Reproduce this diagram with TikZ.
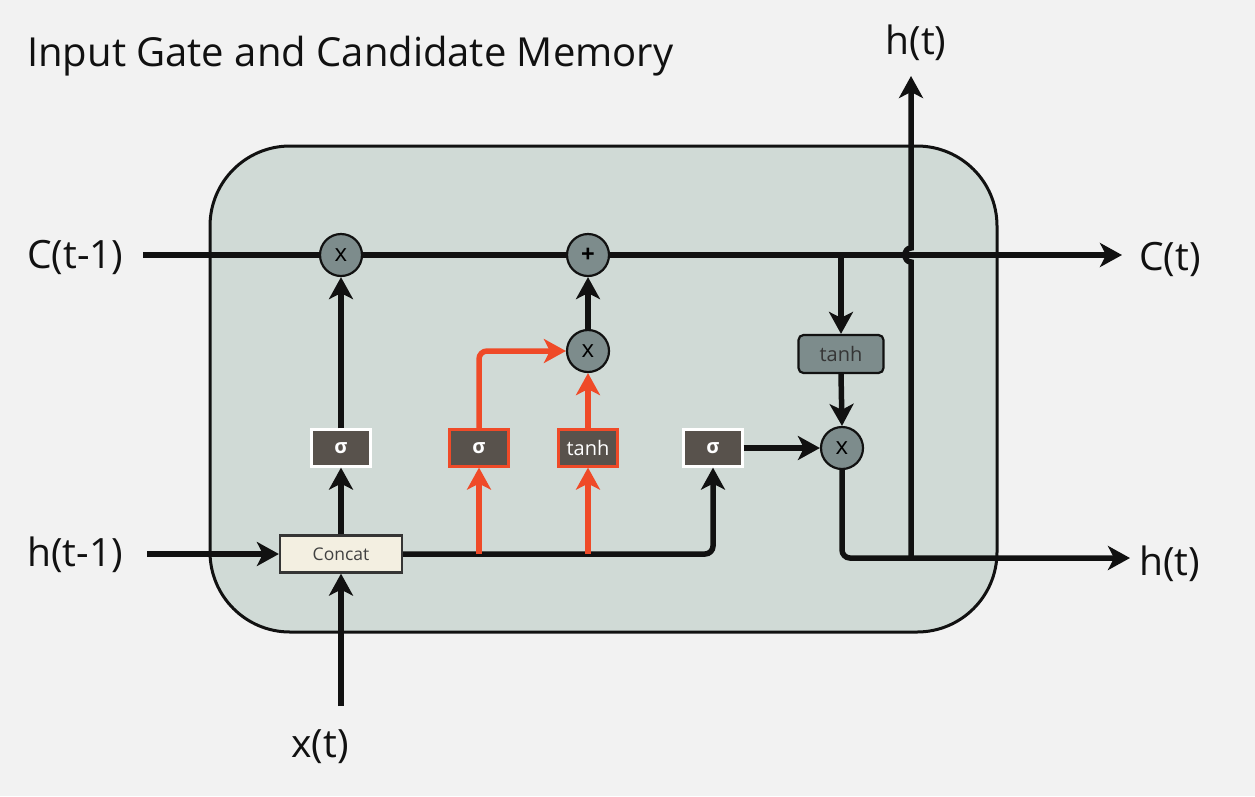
\documentclass[tikz,border=0pt]{standalone}
\usepackage{fontspec}
\setmainfont{Open Sans}
\usetikzlibrary{arrows.meta}
\definecolor{bg}{HTML}{F2F2F2}
\definecolor{cellfill}{HTML}{D0DAD6}
\definecolor{opfill}{HTML}{7D8C8C}
\definecolor{sigfill}{HTML}{58524C}
\definecolor{orng}{HTML}{EF4A28}
\definecolor{cream}{HTML}{F3EFE1}
\definecolor{ink}{HTML}{111111}
\tikzset{
  wire/.style={line width=5.5pt, draw=ink},
  arr/.style={wire, -{Stealth[length=22pt,width=24pt,inset=6pt]}},
  oarr/.style={line width=5.5pt, draw=orng, -{Stealth[length=22pt,width=24pt,inset=6pt]}},
  opnode/.style={circle, draw=ink, line width=2.2pt, fill=opfill, minimum size=42pt, inner sep=0pt, font=\fontsize{24}{26}\selectfont},
  sigbox/.style={draw=white, line width=2.2pt, fill=sigfill, minimum width=59pt, minimum height=37pt, inner sep=0pt, text=white, font=\bfseries\fontsize{20}{22}\selectfont},
  osigbox/.style={sigbox, draw=orng},
  lbl/.style={font=\fontsize{39}{44}\selectfont, text=ink, inner sep=0pt}
}
\begin{document}
\begin{tikzpicture}[x=1pt,y=-1pt]
\useasboundingbox (0,0) rectangle (1255,796);
\fill[bg] (0,0) rectangle (1255,796);
% cell body
\draw[line width=3pt, draw=ink, fill=cellfill, rounded corners=80pt] (210,146) rectangle (997,632);
% title
\node[anchor=west, inner sep=0pt, font=\fontsize{40}{44}\selectfont, text=ink] (title) at (27,56) {Input Gate and Candidate Memory};
% nodes
\node[opnode] (x1) at (341,255) {x};
\node[opnode, font=\bfseries\fontsize{24}{26}\selectfont] (plus) at (588,255) {+};
\node[opnode] (x2) at (588,351) {x};
\node[opnode] (x3) at (842,448) {x};
\node[sigbox] (s1) at (341,448) {σ};
\node[osigbox] (s2) at (479,448) {σ};
\node[osigbox, font=\fontsize{20}{22}\selectfont] (tg) at (588,448) {tanh};
\node[sigbox] (s3) at (713,448) {σ};
\node[draw=ink, line width=2.2pt, fill=opfill, rounded corners=5pt, minimum width=85pt, minimum height=38pt, inner sep=0pt, text=ink!85, font=\fontsize{20}{22}\selectfont] (tc) at (841,354) {tanh};
\node[draw=ink!85, line width=2.2pt, fill=cream, minimum width=122pt, minimum height=37pt, inner sep=0pt, text=ink!80, font=\fontsize{17.5}{20}\selectfont] (cc) at (341,554) {Concat};
% labels
\node[lbl, anchor=west] (cin) at (27,257) {C(t-1)};
\node[lbl, anchor=west] (hin) at (27,555) {h(t-1)};
\node[lbl, anchor=west] (cout) at (1139,259) {C(t)};
\node[lbl, anchor=west] (hout) at (1139,564) {h(t)};
\node[lbl] (htop) at (916,43) {h(t)};
\node[lbl] (xin) at (320,747) {x(t)};
% coordinates
\coordinate (cstart) at (143,255);
\coordinate (cend) at (1122,255);
\coordinate (hstart) at (147,554);
\coordinate (hend) at (1130,558);
\coordinate (xstart) at (341,706);
\coordinate (hj) at (911,558);
\coordinate (hup) at (911,76);
% cell line
\draw[wire] (cstart) -- (x1.west);
\draw[wire] (x1.east) -- (plus.west);
\draw[arr] (plus.east) -- (cend);
% inputs
\draw[arr] (hstart) -- (cc.west);
\draw[arr] (xstart) -- (cc.south);
\draw[arr] (cc.north) -- (s1.south);
\draw[arr] (s1.north) -- (x1.south);
\draw[arr, rounded corners=8pt] (cc.east) -| (s3.south);
\draw[oarr] (s2.south |- cc.east) -- (s2.south);
\draw[oarr] (tg.south |- cc.east) -- (tg.south);
\draw[oarr, rounded corners=8pt] (s2.north) |- (x2.west);
\draw[oarr] (tg.north) -- (x2.south);
\draw[arr] (x2.north) -- (plus.south);
\draw[arr] (s3.east) -- (x3.west);
\draw[arr] (tc.north |- plus.east) -- (tc.north);
\draw[arr] (tc.south) -- (x3.north);
\draw[arr, rounded corners=8pt] (x3.south) |- (hend);
\draw[arr] (hj) -- (911,262) .. controls (903,262) and (903,248) .. (911,248) -- (hup);
\end{tikzpicture}
\end{document}
